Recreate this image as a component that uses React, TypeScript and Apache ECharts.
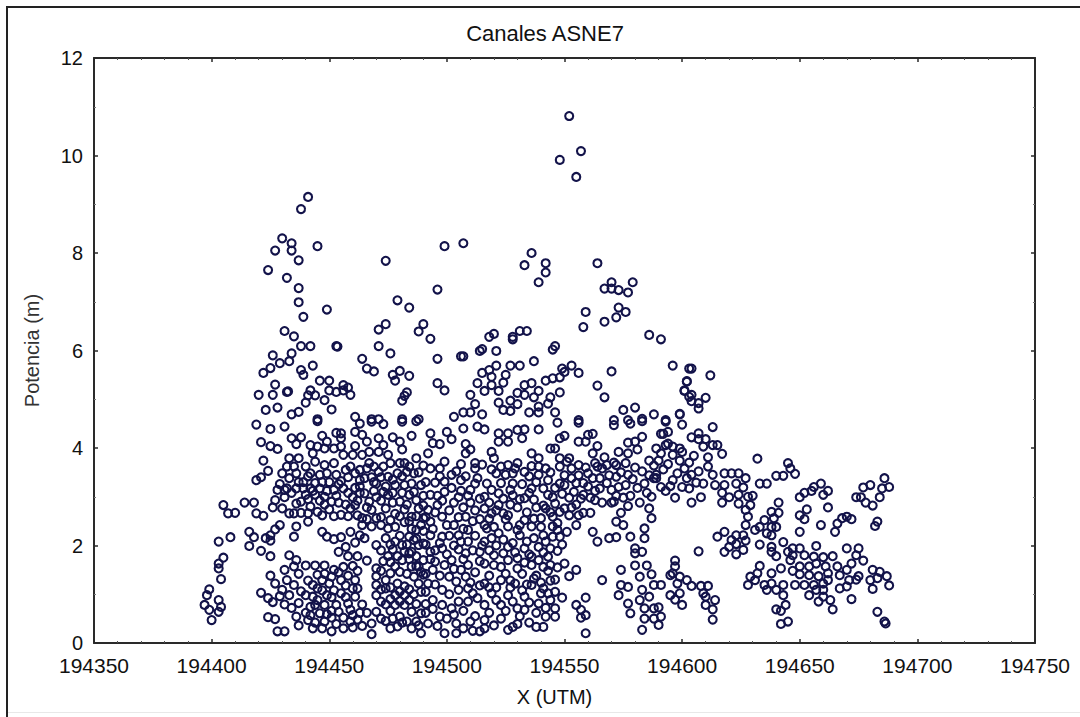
import React, { useEffect, useRef } from "react";
import * as echarts from "echarts";

const TITLE = "Canales ASNE7";
const X_NAME = "X (UTM)";
const Y_NAME = "Potencia (m)";
const X_BASE = 194000;

// Each pair: [X minus 194000, Potencia]
const topOutliers = [[552,10.81],[548,9.91],[557,10.09],[555,9.56],[441,9.15],[438,8.9]];

const upperWest = [[430,8.30],[434,8.20],[427,8.05],[434,8.05],[445,8.14],[437,7.85],[424,7.65],[432,7.49],[437,7.28],[437,6.99],[439,6.69],[449,6.84],[474,7.84],[499,8.14],[496,7.25],[479,7.03],[484,6.88],[474,6.54],[471,6.43],[490,6.54],[488,6.39],[493,6.24],[431,6.40],[435,6.29],[438,6.09],[442,6.09],[453,6.09],[453.5,6.08],[471,6.09],[476,5.94],[496,5.83],[426,5.90],[434,5.94],[433,5.78],[429,5.74],[425,5.64],[422,5.54],[443,5.69],[438,5.60],[439,5.50],[464,5.83],[466,5.63],[469,5.57],[480,5.58],[477,5.50],[478,5.38],[484,5.48],[496,5.33],[499,5.18],[446,5.38],[450,5.38],[427,5.30],[420,5.09],[426,5.09],[432,5.15],[432.5,5.16],[442,5.18],[450,5.18],[456,5.29],[458,5.24],[456,5.18],[453,5.15],[459,5.09],[441,5.08],[444,5.08],[440,4.93],[448,4.98],[451,4.79],[483,5.14],[482,5.07],[481,4.97],[423,4.78],[428,4.83],[434,4.69],[437,4.74],[445,4.59],[461,4.64],[468,4.59],[471,4.59],[481,4.59],[488,4.59],[503,4.64],[506,5.88]];

const upperMiddle = [[507,8.20],[536,8.00],[542,7.79],[533,7.75],[542,7.60],[539,7.40],[564,7.79],[570,7.40],[579,7.40],[567,7.27],[573,7.24],[577,7.19],[570,7.27],[559,6.79],[573,6.88],[576,6.79],[572,6.68],[567,6.59],[558,6.48],[586,6.32],[591,6.23],[520,6.34],[518,6.28],[531,6.40],[534,6.40],[528,6.28],[528,6.23],[515,6.03],[514,5.99],[521,5.99],[546,6.09],[545,6.02],[507,5.88],[537,5.78],[521,5.69],[527,5.69],[531,5.69],[515,5.54],[518,5.60],[519,5.46],[525,5.50],[524,5.34],[513,5.33],[519,5.29],[516,5.17],[522,5.17],[510,5.09],[512,4.90],[522,4.93],[524,4.78],[527,4.97],[530,5.13],[530,4.90],[527,4.76],[533,5.29],[536,5.33],[533,5.09],[537,5.04],[539,5.17],[539,4.85],[535,4.73],[539,4.73],[542,5.38],[545,5.43],[548,5.45],[549,5.63],[550,5.56],[553,5.69],[556,5.54],[548,5.14],[544,5.04],[543,4.91],[546,4.73],[570,5.57],[564,5.28],[567,5.04],[596,5.69],[602,5.36],[601,5.17],[603,5.63],[603,5.05],[575,4.78],[580,4.83],[588,4.69],[599,4.69],[507,4.73],[510,4.73],[515,4.69],[556,4.57],[571,4.57],[577,4.57],[583,4.6],[593,4.57]];

const upperEast = [[604,5.63],[612,5.49],[602,5.37],[601,5.18],[604,5.09],[610,5.03],[604,4.96],[607,4.92],[607,4.81],[599,4.70],[593,4.54],[600,4.48],[613,4.43],[594,4.33],[592,4.29],[607,4.30],[604,4.22],[610,4.18],[607,4.18],[609,4.03],[613,4.06],[615,4.06],[596,4.03],[599,3.99],[593,4.06],[605,3.84],[611,3.81],[617,3.88],[632,3.78]];

const eastUpperBand = [[591,4.29],[594,4.09],[596,3.86],[591,3.89],[590,3.74],[599,3.74],[594,3.67],[601,3.58],[598,3.48],[604,3.45],[602,3.38],[606,3.29],[609,3.27],[603,3.17],[608,2.99],[604,2.88],[589,3.45],[589,3.38],[613,3.45],[618,3.48],[621,3.48],[624,3.48],[627,3.38],[614,3.24],[618,3.24],[623,3.27],[626,3.19],[617,3.08],[620,2.99],[624,3.04],[628,3.0],[630,3.02],[617,2.88],[624,2.86],[629,2.83],[627,2.73],[628,2.59],[641,2.88],[638,2.69],[641,2.67],[635,2.52],[639,2.56],[627,2.42],[631,2.32],[633,2.38],[638,2.38],[640,2.38],[636,2.25],[638,2.21],[650,2.28],[659,2.42],[665,2.28],[666,2.45],[668,2.56],[670,2.59],[672,2.54],[682,2.4],[683,2.49],[652,2.54],[650,2.62],[653,2.74],[662,2.78],[650,2.99],[652,3.08],[655,3.12],[659,3.27],[656,3.2],[662,3.12],[660,3.04],[633,3.27],[636,3.27],[640,3.43],[643,3.43],[645,3.69],[646,3.58],[648,3.47],[680,3.24],[677,3.19],[674,2.99],[676,2.99],[678,2.88],[681,2.82],[684,2.99],[685,3.17],[686,3.38],[688,3.2],[592,3.56],[595,3.22],[596,3.34],[600,3.2],[597,2.98],[593,3.12],[586,3.44],[588,3.64],[591,3.2],[600,3.92],[603,3.7],[607,3.52],[611,3.62]];

const eastLowerBand = [[615,2.18],[618,2.28],[623,2.21],[626,2.21],[621,2.11],[623,2.03],[627,2.10],[620,1.97],[626,1.91],[618,1.87],[623,1.82],[607,1.88],[633,2.02],[638,1.97],[643,2.07],[640,1.78],[638,1.87],[597,1.69],[597,1.57],[595,1.39],[596,1.43],[599,1.36],[602,1.29],[598,1.22],[591,1.19],[604,1.17],[608,1.17],[611,1.17],[599,1.02],[595,0.98],[597,0.89],[600,0.78],[609,1.02],[610,0.95],[614,0.88],[610,0.78],[613,0.69],[613,0.48],[590,0.73],[591,0.54],[590,0.37]];

const farEastCluster = [[633,1.58],[632,1.43],[629,1.36],[628,1.19],[631,1.29],[638,1.43],[642,1.53],[646,1.7],[647,1.48],[650,1.94],[647,1.94],[645,1.87],[647,1.8],[657,1.99],[652,1.8],[656,1.77],[660,1.76],[664,1.78],[670,1.94],[675,1.94],[674,1.8],[677,1.69],[672,1.63],[681,1.5],[684,1.46],[687,1.37],[683,1.33],[681,1.11],[680,1.29],[675,1.37],[670,1.5],[666,1.57],[661,1.57],[657,1.63],[654,1.57],[650,1.57],[650,1.41],[654,1.39],[658,1.37],[662,1.43],[667,1.39],[671,1.29],[674,1.3],[670,1.16],[667,1.12],[662,1.29],[660,1.22],[656,1.19],[652,1.19],[648,1.19],[643,1.19],[638,1.22],[635,1.19],[636,1.09],[640,1.09],[643,0.98],[654,0.98],[657,1.09],[660,1.09],[663,0.88],[658,0.85],[660,0.95],[672,0.9],[664,0.69],[644,0.78],[640,0.69],[642,0.66],[645,0.44],[642,0.39],[683,0.64],[686,0.44],[686.5,0.4],[688,1.18]];

const westUpperCloud = [[419,4.48],[425,4.39],[431,4.44],[445,4.55],[463,4.50],[468,4.54],[473,4.49],[481,4.54],[487,4.55],[421,4.12],[425,4.04],[428,3.98],[422,3.74],[424,3.53],[419,3.34],[421,3.40],[434,4.2],[438,4.22],[436,4.08],[442,4.06],[447,4.25],[445,4.03],[449,4.13],[453,4.31],[455,4.3],[455,4.2],[455,4.03],[452,3.99],[448,3.99],[443,3.89],[461,4.33],[461,4.04],[466,4.13],[464,4.27],[471,4.2],[477,4.22],[480,4.13],[485,4.25],[481,3.97],[473,4.06],[467,3.92],[471,3.92],[475,3.86],[456,3.86],[460,3.86],[464,3.86],[433,3.79],[437,3.79],[444,3.72],[432,3.62],[435,3.62],[430,3.48],[436,3.48],[442,3.48],[446,3.45],[440,3.62],[448,3.65],[452,3.69],[453,3.45],[459,3.62],[463,3.55],[467,3.69],[471,3.51],[476,3.69],[480,3.69],[482,3.69],[487,3.79],[483,3.51],[486,3.48],[475,3.41],[479,3.48],[468,3.4],[463,3.34],[458,3.4]];

const westMidCloud = [[429,3.26],[432,3.17],[428,3.14],[436,3.17],[439,3.17],[446,3.17],[442,3.17],[452,3.14],[456,3.17],[463,3.21],[470,3.27],[474,3.21],[478,3.24],[482,3.24],[485,3.27],[489,3.24],[427,2.93],[431,2.99],[436,2.86],[440,3.04],[444,3.04],[448,3.0],[454,2.88],[460,2.99],[465,3.07],[470,2.99],[467,2.9],[475,3.04],[480,2.9],[484,3.04],[487,2.93],[426,2.78],[430,2.76],[438,2.9],[442,2.8],[445,2.69],[450,2.74],[455,2.63],[461,2.83],[464,2.56],[468,2.73],[474,2.76],[472,2.58],[478,2.65],[482,2.74],[485,2.59],[488,2.76],[433,2.66],[438,2.67],[435,2.66],[405,2.83],[407,2.66],[410,2.67],[414,2.88],[418,2.88],[419,2.66],[422,2.61],[429,2.42],[427,2.33],[425,2.21],[436,2.39],[441,2.49],[435,2.18],[416,2.28],[418,2.17],[423,2.15],[425,2.1],[416,1.99],[421,1.89],[425,1.78],[408,2.17],[403,2.08],[405,1.75],[403,1.63],[403,1.53],[404,1.31]];

const westLowerCloud = [[447,2.28],[449,2.18],[452,2.13],[455,2.17],[459,2.28],[464,2.42],[468,2.39],[463,2.21],[465,2.15],[470,2.01],[461,2.06],[457,1.97],[454,1.87],[458,1.78],[462,1.78],[466,1.69],[475,2.35],[474,2.15],[478,2.08],[484,2.18],[487,2.32],[475,1.78],[479,1.78],[485,1.87],[488,2.01],[433,1.8],[436,1.7],[435,1.57],[431,1.5],[440,1.59],[444,1.59],[448,1.59],[452,1.5],[456,1.56],[460,1.58],[462,1.48],[425,1.38],[427,1.22],[432,1.29],[435,1.19],[430,1.09],[433,0.98],[421,1.03],[424,0.92],[431,0.79],[447,1.29],[450,1.22],[445,1.12],[443,1.19],[440,0.98],[443,0.95],[449,0.98],[445,0.88],[442,0.74],[448,0.78],[453,0.78],[455,1.29],[461,1.29],[460,1.12],[455,1.02],[461,0.95],[464,0.79],[458,0.81],[442,0.57],[446,0.61],[449,0.59],[441,0.47],[448,0.44],[453,0.39],[456,0.3],[460,0.32],[464,0.35],[454,0.64],[460,0.57],[424,0.53],[427,0.49],[436,0.54],[428,0.24],[431,0.24],[399,1.1],[398,0.98],[397,0.78],[403,0.88],[404,0.74],[399,0.68],[403,0.64],[400,0.47],[470,1.53],[470,1.37],[474,1.29],[478,1.57],[476,1.43],[470,1.19],[470,0.98],[474,1.12],[479,1.22],[482,1.16],[478,0.98],[482,0.98],[474,0.79],[470,0.64],[478,0.78],[482,0.78],[474,0.45],[477,0.5],[480,0.54],[483,0.44],[468,0.4],[468,0.18],[476,0.3],[488,1.57],[488,1.22],[489,1.05],[489,0.61],[489,0.2],[487,0.44],[486,2.11],[484,1.84],[481,2.01],[485,1.57],[490,1.7],[490,2.3]];

const centreUpper = [[493,4.3],[500,4.33],[507,4.4],[513,4.44],[516,4.38],[522,4.3],[526,4.3],[530,4.37],[533,4.38],[539,4.38],[547,4.52],[556,4.52],[571,4.47],[578,4.5],[583,4.55],[497,4.08],[502,4.18],[508,4.08],[494,4.1],[522,4.13],[526,4.13],[532,4.2],[548,4.2],[550,4.25],[556,4.13],[559,4.13],[562,4.29],[560,4.27],[564,4.04],[577,4.11],[583,4.23],[580,4.13],[581,3.97],[544,3.99],[546,3.99],[492,3.89],[508,3.89],[510,3.97],[519,3.92],[536,3.89],[562,3.89],[573,3.92],[577,3.89],[586,3.74],[589,3.99],[520,3.79],[539,3.79],[499,3.72],[506,3.67],[512,3.69],[526,3.65],[530,3.69],[536,3.63],[548,3.79],[552,3.79],[556,3.65],[567,3.81],[563,3.69],[568,3.65],[572,3.65],[576,3.69]];

const centreMiddle = [[493,3.58],[497,3.58],[502,3.45],[512,3.58],[521,3.48],[525,3.45],[528,3.48],[533,3.51],[539,3.45],[542,3.58],[548,3.62],[553,3.58],[560,3.48],[565,3.38],[572,3.41],[577,3.45],[584,3.27],[588,3.38],[495,3.29],[499,3.31],[506,3.34],[517,3.27],[512,3.27],[528,3.27],[536,3.17],[543,3.34],[548,3.27],[553,3.38],[560,3.21],[565,3.17],[570,3.14],[576,3.24],[493,3.04],[499,3.1],[505,2.99],[510,3.14],[516,3.0],[522,3.07],[528,3.03],[533,2.97],[541,3.17],[545,2.99],[550,3.24],[554,3.1],[558,3.04],[563,2.93],[572,3.02],[578,3.02],[582,2.88],[587,3.0],[496,2.83],[492,2.73],[510,2.88],[516,2.76],[522,2.83],[530,2.78],[538,2.78],[542,2.76],[548,2.69],[553,2.78],[558,2.67],[561,2.67],[571,2.9],[577,2.81],[574,2.67],[586,2.76],[498,2.59],[508,2.59],[514,2.54],[519,2.66],[525,2.54],[533,2.52],[540,2.56],[545,2.59],[552,2.62],[493,2.49],[587,2.56]];

const centreLower = [[555,2.42],[572,2.49],[575,2.42],[584,2.35],[562,2.28],[564,2.08],[569,2.15],[572,2.17],[578,2.18],[584,2.15],[580,1.94],[583,1.87],[580,1.84],[503,2.42],[509,2.32],[517,2.35],[526,2.39],[536,2.39],[545,2.39],[493,2.21],[498,2.18],[505,2.21],[522,2.25],[531,2.21],[541,2.21],[548,2.18],[498,1.94],[503,2.0],[509,2.08],[516,2.08],[521,2.0],[526,1.97],[533,1.94],[539,1.97],[547,1.89],[493,1.87],[508,1.84],[514,1.87],[520,1.8],[530,1.74],[536,1.77],[543,1.77],[495,1.67],[502,1.7],[509,1.6],[516,1.63],[523,1.56],[530,1.53],[536,1.6],[541,1.56],[550,1.63],[555,1.5],[552,1.37],[566,1.29]];

const centreBottom = [[574,1.5],[580,1.59],[585,1.59],[582,1.36],[587,1.41],[574,1.19],[577,1.15],[583,1.09],[588,1.19],[573,0.98],[577,0.81],[582,0.88],[586,0.95],[578,0.61],[584,0.71],[588,0.71],[584,0.5],[583,0.27],[588,0.5],[549,0.93],[559,0.93],[555,0.78],[557,0.68],[559,0.57],[557,0.52],[559,0.2],[546,0.71],[546,0.54],[542,0.54],[541,0.33],[538,0.33],[530,0.39],[528,0.33],[494,1.5],[501,1.36],[508,1.36],[516,1.22],[523,1.29],[529,1.22],[536,1.19],[541,1.12],[492,1.22],[498,1.09],[505,1.09],[511,1.02],[519,1.02],[526,0.98],[533,0.95],[543,1.02],[494,0.88],[502,0.71],[509,0.85],[516,0.78],[523,0.78],[530,0.71],[539,0.81],[497,0.54],[492,0.4],[504,0.4],[510,0.44],[516,0.3],[523,0.5],[499,0.2],[504,0.2],[511,0.25],[516,0.47],[533,0.68]];

const denseCentreLow = [[491,0.62],[494,0.7],[496,0.35],[498,0.78],[500,0.5],[501,1.0],[503,0.58],[505,0.85],[507,0.3],[507,0.66],[509,1.12],[512,0.55],[513,0.92],[514,0.24],[518,0.62],[518,1.14],[520,0.36],[521,0.88],[525,0.66],[526,0.27],[527,1.14],[528,0.85],[531,0.55],[532,1.08],[535,0.42],[535,0.83],[537,1.32],[538,0.62],[540,1.02],[542,0.72],[544,0.88],[544,1.28],[491,1.05],[495,1.2],[497,1.38],[499,1.6],[493,1.72],[491,1.42],[504,1.26],[506,1.5],[503,1.52],[507,1.72],[510,1.24],[512,1.45],[514,1.18],[514,1.68],[518,1.38],[520,1.6],[521,1.14],[525,1.42],[526,1.7],[527,1.28],[532,1.42],[533,1.65],[534,1.2],[538,1.38],[539,1.7],[540,1.24],[543,1.48],[544,1.6],[546,1.3],[546,1.05],[547,1.55],[491,2.02],[495,1.9],[497,2.05],[500,1.82],[501,2.2],[505,1.92],[506,2.08],[511,1.9],[512,2.2],[515,2.0],[518,1.9],[519,2.15],[524,1.84],[524,2.12],[528,2.05],[529,1.86],[530,2.32],[534,2.08],[535,1.82],[537,2.15],[541,1.86],[542,2.08],[544,1.94],[545,2.18],[549,2.02],[551,2.28],[547,2.32]];

const denseCentreMid = [[491,3.3],[491,2.58],[494,2.34],[495,2.68],[496,3.02],[497,3.42],[498,2.92],[500,2.42],[501,2.72],[502,3.18],[503,2.88],[504,3.52],[505,2.58],[506,3.12],[507,2.34],[507,2.78],[508,3.42],[509,3.02],[511,2.5],[512,2.72],[513,3.38],[514,2.96],[515,3.66],[516,2.42],[518,2.55],[518,2.88],[519,3.14],[519,3.56],[520,2.38],[521,2.72],[523,3.28],[523,3.62],[524,2.66],[524,2.96],[526,2.62],[527,3.14],[527,2.84],[529,3.58],[531,2.42],[531,2.95],[532,3.26],[534,2.68],[535,3.08],[535,3.42],[537,2.55],[537,2.94],[538,3.3],[539,3.62],[540,2.38],[541,2.82],[543,3.04],[544,2.68],[544,3.5],[546,2.86],[546,3.18],[547,2.46],[549,3.06],[550,2.76],[550,3.44],[551,3.72],[552,2.98],[555,2.84],[555,3.28],[556,3.44],[557,2.96],[558,3.28],[556,2.62],[559,3.6],[561,2.98],[562,3.38],[563,3.12],[564,3.62],[566,2.88],[566,3.58],[568,3.28],[569,3.44],[570,2.88],[571,3.7],[573,3.2],[574,3.5],[575,2.98],[579,3.36],[580,3.6],[581,3.18],[583,3.52],[585,3.08]];

const denseWest = [[439,3.3],[441,3.42],[444,3.28],[447,3.3],[449,3.48],[450,3.3],[455,3.32],[457,3.55],[461,3.18],[461,3.48],[465,3.38],[466,3.58],[469,3.3],[469,3.62],[472,3.4],[473,3.62],[477,3.35],[481,3.42],[484,3.62],[488,3.5],[490,3.64],[433,3.38],[431,3.14],[434,3.08],[437,3.3],[441,2.95],[443,3.12],[446,2.92],[449,3.12],[451,2.9],[453,3.02],[454,3.26],[457,2.84],[458,3.08],[462,2.92],[463,3.08],[466,2.78],[469,3.12],[472,2.92],[473,3.1],[477,2.88],[477,3.08],[481,3.08],[483,2.84],[486,3.1],[490,3.02],[490,2.82],[441,2.66],[447,2.62],[448,2.84],[452,2.6],[458,2.6],[459,2.76],[462,2.62],[466,2.54],[470,2.56],[476,2.52],[480,2.6],[484,2.5],[487,2.6],[490,2.56],[472,2.42],[478,2.38],[482,2.48],[485,2.34],[489,2.42],[480,2.2],[483,2.02],[487,2.14],[490,2.04],[476,2.02],[472,1.9],[477,1.92],[482,1.88],[487,1.78],[473,1.68],[476,1.66],[481,1.7],[484,1.72],[487,1.58],[490,1.4],[472,1.48],[480,1.46],[483,1.42],[486,1.36],[489,1.46],[472,1.1],[476,1.14],[476,0.9],[480,1.06],[484,1.1],[486,1.0],[487,0.8],[485,0.64],[472,0.85],[476,0.66],[480,0.86],[484,0.88],[472,0.5],[479,0.34],[481,0.42],[485,0.3],[488,0.36],[491,0.8],[445,1.4],[448,1.42],[451,1.36],[454,1.45],[458,1.38],[462,1.12],[457,1.18],[452,1.08],[447,1.08],[444,0.78],[451,0.94],[457,0.94],[459,0.68],[463,0.62],[451,0.66],[444,0.42],[451,0.52],[456,0.52],[462,0.48],[466,0.62],[437,1.42],[438,1.06],[441,1.28],[437,0.82],[434,0.72],[429,0.96],[426,0.84],[440,0.62],[437,0.36],[443,0.3],[447,0.3],[451,0.24],[459,0.44]];

const allBands = [topOutliers, upperWest, upperMiddle, upperEast, eastUpperBand, eastLowerBand, farEastCluster, westUpperCloud, westMidCloud, westLowerCloud, centreUpper, centreMiddle, centreLower, centreBottom, denseCentreLow, denseCentreMid, denseWest];

const INK = "#13134a";
const AXIS = "#2a2a2a";
const FONT = "'Liberation Sans', Arial, sans-serif";

export default function App() {
  const ref = useRef<HTMLDivElement>(null);
  useEffect(() => {
    const chart = echarts.init(ref.current!, null, { renderer: "svg" });
    const data = allBands.flat().map(([x, y]) => [X_BASE + x, y]);
    const xBase = {
      type: "value", min: 194350, max: 194750, interval: 50, scale: true,
      splitLine: { show: false },
      axisLine: { show: true, onZero: false, lineStyle: { color: AXIS, width: 2 } },
      axisTick: { show: true, inside: true, length: 4, lineStyle: { color: AXIS, width: 1.5 } },
      minorTick: { show: true, splitNumber: 5, length: 2, lineStyle: { color: "#555", width: 1 } },
    };
    const yBase = {
      type: "value", min: 0, max: 12, interval: 2,
      splitLine: { show: false },
      axisLine: { show: true, onZero: false, lineStyle: { color: AXIS, width: 2 } },
      axisTick: { show: true, inside: true, length: 4, lineStyle: { color: AXIS, width: 1.5 } },
      minorTick: { show: true, splitNumber: 2, length: 2, lineStyle: { color: "#777", width: 1 } },
    };
    chart.setOption({
      animation: false,
      backgroundColor: "#ffffff",
      textStyle: { fontFamily: FONT },
      title: {
        text: TITLE, left: 540, top: 17, textAlign: "center",
        textStyle: { fontFamily: FONT, fontSize: 22, fontWeight: "normal", color: "#111111" },
      },
      grid: { left: 94, right: 45, top: 58, bottom: 74 },
      xAxis: [
        {
          ...xBase, position: "bottom",
          name: X_NAME, nameLocation: "middle", nameGap: 44,
          nameTextStyle: { fontFamily: FONT, fontSize: 20, color: "#111111", padding: [0, 20, 0, 0] },
          axisLabel: { fontFamily: FONT, fontSize: 21, color: "#111111", margin: 12, formatter: (v: number) => String(v) },
        },
        { ...xBase, position: "top", axisLabel: { show: false } },
      ],
      yAxis: [
        {
          ...yBase, position: "left",
          name: Y_NAME, nameLocation: "middle", nameGap: 52, nameRotate: 90,
          nameTextStyle: { fontFamily: FONT, fontSize: 20, color: "#333333" },
          axisLabel: { fontFamily: FONT, fontSize: 20, color: "#111111", margin: 11 },
        },
        { ...yBase, position: "right", axisLabel: { show: false } },
      ],
      graphic: [
        { type: "rect", silent: true, shape: { x: 6, y: 6, width: 1074, height: 2 }, style: { fill: "#222222" } },
        { type: "rect", silent: true, shape: { x: 6, y: 6, width: 2, height: 711 }, style: { fill: "#222222" } },
        { type: "rect", silent: true, shape: { x: 8, y: 712, width: 1072, height: 1 }, style: { fill: "#e8e8e8" } },
      ],
      series: [
        {
          type: "scatter", xAxisIndex: 0, yAxisIndex: 0, data,
          symbol: "circle", symbolSize: 8, silent: true, clip: false,
          itemStyle: { color: "rgba(255,255,255,0)", borderColor: INK, borderWidth: 2.1, opacity: 1 },
        },
      ],
    });
    return () => chart.dispose();
  }, []);
  return <div ref={ref} style={{ position: "absolute", left: 0, top: 0, width: 1080, height: 717 }} />;
}
